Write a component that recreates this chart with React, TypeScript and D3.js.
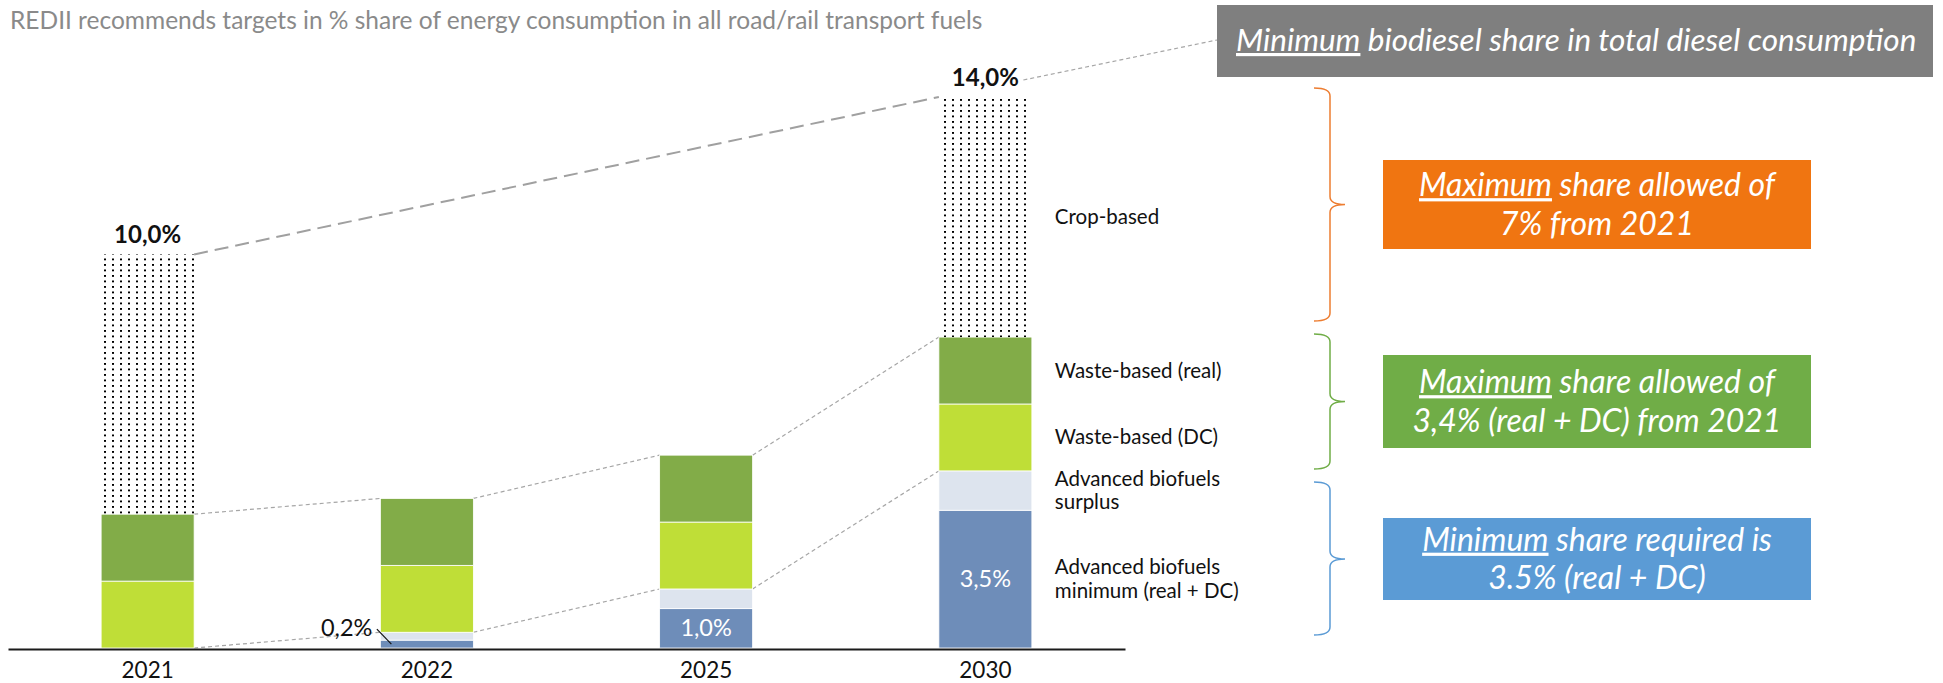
import { useEffect, useRef } from 'react';
import * as d3 from 'd3';

// data (% share of energy in road/rail transport fuels)
const categories = ['2021', '2022', '2025', '2030'];
const advancedMin = [0, 0.2, 1.0, 3.5];
const advancedSurplus = [0, 0.2, 0.5, 1.0];
const wasteDC = [1.7, 1.7, 1.7, 1.7];
const wasteReal = [1.7, 1.7, 1.7, 1.7];
const cropBased = [6.6, 0, 0, 6.1];
const totalLabels = ['10,0%', '', '', '14,0%'];
const minLabels = ['', '0,2%', '1,0%', '3,5%'];
const seriesNames = [
    ['Advanced biofuels', 'minimum (real + DC)'],
    ['Advanced biofuels', 'surplus'],
    ['Waste-based (DC)'],
    ['Waste-based (real)'],
    ['Crop-based'],
];

const TITLE = 'REDII recommends targets in % share of energy consumption in all road/rail transport fuels';
const FONT = 'Lato, "Open Sans", sans-serif';

const KEYS = ['min', 'surplus', 'dc', 'real', 'crop'];
const COLORS = {
    min: '#6E8DB9',
    surplus: '#DDE4EE',
    dc: '#BFDE37',
    real: '#82AC48',
    crop: 'url(#dots)'
};

// right hand side call-outs
const CALLOUTS = [
    { color: '#F07511', brace: '#ED7D31', top: 88, bottom: 321, boxTop: 160, boxBottom: 249,
        lines: [['Maximum', ' share allowed of'], ['', '7% from 2021']] },
    { color: '#70AD47', brace: '#70AD47', top: 334, bottom: 469, boxTop: 355, boxBottom: 448,
        lines: [['Maximum', ' share allowed of'], ['', '3,4% (real + DC) from 2021']] },
    { color: '#5B9BD5', brace: '#5B9BD5', top: 482, bottom: 635, boxTop: 518, boxBottom: 600,
        lines: [['Minimum', ' share required is'], ['', '3.5% (real + DC)']] },
];

const CHART = {
    width: 1943,
    height: 683,
    left: 8,
    right: 1125,
    base: 648,
    top: 97
};

export default function App() {
    const xAxis = useRef<SVGGElement>(null);

    const rows = categories.map((c, i) => ({
        cat: c,
        min: advancedMin[i],
        surplus: advancedSurplus[i],
        dc: wasteDC[i],
        real: wasteReal[i],
        crop: cropBased[i]
    }));
    const totals = rows.map((r) => KEYS.reduce((s, k) => s + r[k], 0));
    const stacked = d3.stack().keys(KEYS)(rows as any);

    const xScale = d3.scaleBand().domain(categories)
        .range([CHART.left, CHART.right])
        .paddingInner(0.667).paddingOuter(0.3335);
    const yScale = d3.scaleLinear().domain([0, d3.max(totals)]).range([CHART.base, CHART.top]);
    const bw = xScale.bandwidth();

    useEffect(() => {
        const g = d3.select(xAxis.current);
        g.call(d3.axisBottom(xScale).tickSize(0).tickSizeOuter(0).tickPadding(13) as any);
        g.attr('font-family', FONT).attr('font-size', 22.5);
        g.select('.domain').attr('stroke', '#1b1b1b').attr('stroke-width', 2.2);
        g.selectAll('text').attr('fill', '#111');
    }, []);

    const last = categories.length - 1;
    const lastX = xScale(categories[last]);

    // dashed connectors between neighbouring bars
    const connectors = [];
    for (let i = 0; i < last; i++) {
        const xa = xScale(categories[i]) + bw;
        const xb = xScale(categories[i + 1]);
        connectors.push([xa, yScale(stacked[3][i][1]), xb, yScale(stacked[3][i + 1][1])]);
        connectors.push([xa, yScale(stacked[1][i][1]), xb, yScale(stacked[1][i + 1][1])]);
    }

    return (
        <svg width={CHART.width} height={CHART.height}
            style={{ position: 'absolute', left: 0, top: 0, display: 'block', background: '#fff' }}>
            <defs>
                <pattern id="dots" width={8} height={5.5} patternUnits="userSpaceOnUse">
                    <rect x={0} y={0} width={1.5} height={1.5} fill="#000" shapeRendering="crispEdges" />
                </pattern>
            </defs>

            <text x={10} y={29} fontFamily={FONT} fontSize={24.5} fill="#8a8a8a">{TITLE}</text>

            {/* connectors */}
            {connectors.map((c, i) => (
                <line key={i} x1={c[0]} y1={c[1]} x2={c[2]} y2={c[3]}
                    stroke="#a6a6a6" strokeWidth={1.2} strokeDasharray="4 3" />
            ))}
            <line x1={xScale(categories[0]) + bw} y1={yScale(totals[0])} x2={lastX} y2={yScale(totals[last])}
                stroke="#a0a0a0" strokeWidth={2} strokeDasharray="14 7" />
            <line x1={lastX + bw / 2 + 38} y1={80} x2={1217} y2={40}
                stroke="#a6a6a6" strokeWidth={1.2} strokeDasharray="4 3" />

            {/* stacked bars */}
            {stacked.map((s, si) => (
                <g key={s.key}>
                    {s.map((d, i) => d[1] - d[0] > 0 && (
                        <rect key={i} x={xScale(categories[i])} width={bw}
                            y={yScale(d[1])} height={yScale(d[0]) - yScale(d[1])}
                            fill={COLORS[s.key]}
                            stroke={s.key === 'crop' ? 'none' : '#ffffff'} strokeWidth={0.8} />
                    ))}
                </g>
            ))}

            {/* labels in / next to the minimum segment */}
            {minLabels.map((lab, i) => {
                if (!lab) return null;
                const x0 = xScale(categories[i]);
                const y0 = yScale(0);
                const y1 = yScale(advancedMin[i]);
                if (y0 - y1 < 25) {
                    const ym = (y0 + y1) / 2;
                    return (
                        <g key={i}>
                            <rect x={x0 - 64} y={ym - 40} width={58} height={28} fill="#fff" />
                            <text x={x0 - 8} y={ym - 8} textAnchor="end" fontFamily={FONT} fontSize={23.5} fill="#111">{lab}</text>
                            <line x1={x0 - 3.5} y1={ym - 15} x2={x0 + 11} y2={ym} stroke="#111" strokeWidth={1.2} />
                        </g>
                    );
                }
                return (
                    <text key={i} x={x0 + bw / 2} y={(y0 + y1) / 2 + 8} textAnchor="middle"
                        fontFamily={FONT} fontSize={23.5} fill="#fff">{lab}</text>
                );
            })}

            {/* totals */}
            {totalLabels.map((lab, i) => lab && (
                <text key={i} x={xScale(categories[i]) + bw / 2} y={yScale(totals[i]) - 11}
                    textAnchor="middle" fontFamily={FONT} fontSize={24} fontWeight="bold" fill="#111">{lab}</text>
            ))}

            {/* series names beside the last bar */}
            {stacked.map((s, si) => {
                const d = s[last];
                const yc = (yScale(d[0]) + yScale(d[1])) / 2;
                const lines = seriesNames[si];
                const y0 = yc - (lines.length - 1) * 23.7 / 2 + 7;
                return (
                    <text key={s.key} x={lastX + bw + 23} y={y0} fontFamily={FONT} fontSize={20.5} fill="#111">
                        {lines.map((l, li) => (
                            <tspan key={li} x={lastX + bw + 23} dy={li === 0 ? 0 : 23.7}>{l}</tspan>
                        ))}
                    </text>
                );
            })}

            <g ref={xAxis} transform={`translate(0, ${CHART.base + 1})`} />

            {/* grey header box */}
            <rect x={1217} y={5} width={716} height={72} fill="#7f7f7f" />
            <text x={1236} y={51} fontFamily={FONT} fontStyle="italic" fontSize={31.5} fill="#fff">
                <tspan textDecoration="underline">Minimum</tspan>
                <tspan> biodiesel share in total diesel consumption</tspan>
            </text>

            {/* braces + call-out boxes */}
            {CALLOUTS.map((c, i) => {
                const mid = (c.boxTop + c.boxBottom) / 2;
                const xa = 1314, xb = 1330, xc = 1345, r = 8;
                const path = `M${xa},${c.top} Q${xb},${c.top} ${xb},${c.top + r} L${xb},${mid - r} Q${xb},${mid} ${xc},${mid}`
                    + ` Q${xb},${mid} ${xb},${mid + r} L${xb},${c.bottom - r} Q${xb},${c.bottom} ${xa},${c.bottom}`;
                const cx = (1383 + 1811) / 2;
                return (
                    <g key={i}>
                        <path d={path} fill="none" stroke={c.brace} strokeWidth={1.5} />
                        <rect x={1383} y={c.boxTop} width={428} height={c.boxBottom - c.boxTop} fill={c.color} />
                        {c.lines.map((l, li) => (
                            <text key={li} x={cx} y={mid + (li === 0 ? -19.3 : 19.3) + 11} textAnchor="middle"
                                fontFamily={FONT} fontStyle="italic" fontSize={32} fill="#fff">
                                {l[0] && <tspan textDecoration="underline">{l[0]}</tspan>}
                                <tspan>{l[1]}</tspan>
                            </text>
                        ))}
                    </g>
                );
            })}
        </svg>
    );
}
